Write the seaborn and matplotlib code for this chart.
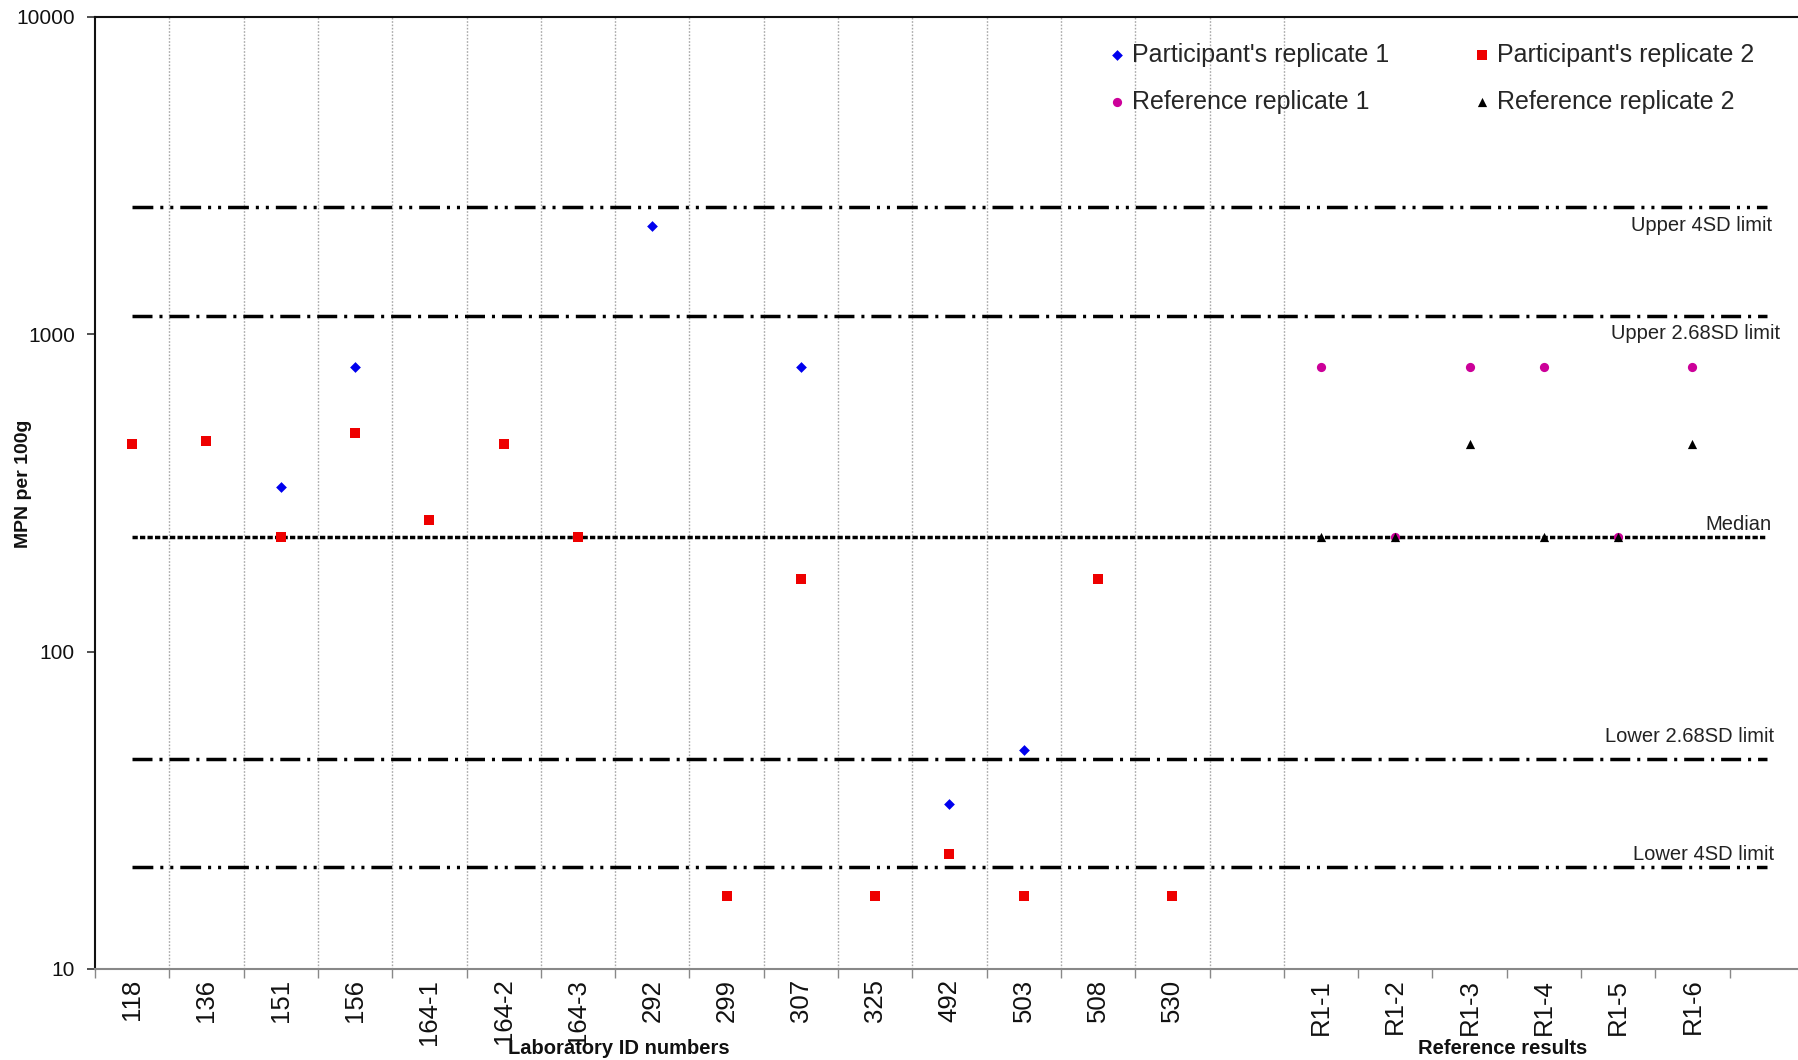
import numpy as np
import pandas as pd
import matplotlib
matplotlib.use("Agg")
import matplotlib.pyplot as plt
import seaborn as sns

# x categories: participants, one empty slot, then reference results
lab_ids = ["118", "136", "151", "156", "164-1", "164-2", "164-3", "292",
           "299", "307", "325", "492", "503", "508", "530"]
ref_ids = ["R1-1", "R1-2", "R1-3", "R1-4", "R1-5", "R1-6"]
tick_labels = lab_ids + [""] + ref_ids

# MPN per 100g (NaN = no point shown)
part_rep1 = [np.nan, np.nan, 330, 790, np.nan, np.nan, np.nan, 2200,
             np.nan, 790, np.nan, 33, 49, np.nan, np.nan]
part_rep2 = [450, 460, 230, 490, 260, 450, 230, np.nan,
             17, 170, 17, 23, 17, 170, 17]
ref_rep1 = [790, 230, 790, 790, 230, 790]
ref_rep2 = [230, 230, 450, 230, 230, 450]

# horizontal limit lines
limit_names = ["Upper 4SD limit", "Upper 2.68SD limit", "Median",
               "Lower 2.68SD limit", "Lower 4SD limit"]
limit_values = [2520, 1140, 230, 46, 21]

# styles for the limit lines (dash patterns in points) and label offsets
dash_4sd = (0, (15, 5, 2.2, 5, 2.2, 5))
dash_268 = (0, (14.4, 5, 2.2, 5))
dash_med = (0, (3.8, 1.6))
limit_styles = [dash_4sd, dash_268, dash_med, dash_268, dash_4sd]
label_offsets = [(4, -13.2), (9.5, -12.5), (3.2, 9.0), (5.4, 15.8), (5.4, 8.9)]

sns.set_theme(style="white")
plt.rcParams["font.family"] = ["Liberation Sans", "DejaVu Sans"]
plt.rcParams["lines.scale_dashes"] = False

# tidy frames for seaborn
n_lab = len(lab_ids)
ref_pos = np.arange(len(ref_ids)) + n_lab + 1
df_p = pd.DataFrame({"pos": np.arange(n_lab), "rep1": part_rep1, "rep2": part_rep2})
df_r = pd.DataFrame({"pos": ref_pos, "rep1": ref_rep1, "rep2": ref_rep2})

fig = plt.figure(figsize=(17.98, 10.60), dpi=100)
ax = fig.add_axes([95 / 1798, 91 / 1060, 1 - 95 / 1798, 952 / 1060])

# vertical dotted separators (participants part only)
for xb in np.arange(n_lab + 1) + 0.5:
    ax.axvline(xb, color="#a8a8a8", lw=1.0, ls=(0, (1.2, 1.2)), zorder=1)

# limit lines with their labels
x_end = len(tick_labels)
for name, val, ls, off in zip(limit_names, limit_values, limit_styles, label_offsets):
    ax.plot([0, x_end], [val, val], color="black", lw=2.5, ls=ls, zorder=2)
    ax.annotate(name, xy=(x_end, val), xytext=off, textcoords="offset points",
                ha="right", va="center", fontsize=14.5, color="#222222")

sns.scatterplot(data=df_p, x="pos", y="rep1", marker="D", s=30, color="#0000ee",
                linewidth=0, label="Participant's replicate 1", ax=ax, zorder=4)
sns.scatterplot(data=df_p, x="pos", y="rep2", marker="s", s=46, color="#ee0000",
                linewidth=0, label="Participant's replicate 2", ax=ax, zorder=4)
sns.scatterplot(data=df_r, x="pos", y="rep1", marker="o", s=44, color="#cc0099",
                linewidth=0, label="Reference replicate 1", ax=ax, zorder=4)
sns.scatterplot(data=df_r, x="pos", y="rep2", marker="^", s=44, color="black",
                linewidth=0, label="Reference replicate 2", ax=ax, zorder=5)

# y axis
ax.set_yscale("log")
ax.set_ylim(10, 10000)
ax.set_yticks([10, 100, 1000, 10000])
ax.set_yticklabels(["10", "100", "1000", "10000"])
ax.yaxis.set_minor_locator(matplotlib.ticker.NullLocator())
ax.tick_params(axis="y", which="major", left=True, length=5.5, width=1.2,
               color="#333333", pad=9, labelsize=15, labelcolor="#111111")
ax.set_ylabel("MPN per 100g", fontsize=14, fontweight="bold", color="#111111")
ax.yaxis.set_label_coords(-0.037, 0.51)

# x axis: tick marks between categories, labels at the centers
ax.set_xlim(-0.5, 22.42)
ax.set_xticks(np.arange(len(tick_labels) + 1) - 0.5)
ax.set_xticklabels([])
ax.set_xticks(np.arange(len(tick_labels)), minor=True)
ax.set_xticklabels(tick_labels, minor=True, rotation=90)
ax.tick_params(axis="x", which="major", bottom=True, length=6.5, width=1.0,
               color="#888888")
ax.tick_params(axis="x", which="minor", bottom=True, length=0, pad=7,
               labelsize=18.5, labelcolor="#111111")
ax.set_xlabel("")

ax.text((n_lab - 1) / 2 - 0.45, -0.083, "Laboratory ID numbers", transform=ax.get_xaxis_transform(),
        ha="center", va="center", fontsize=14.5, fontweight="bold", color="#111111")
ax.text(ref_pos.mean() - 0.05, -0.083, "Reference results", transform=ax.get_xaxis_transform(),
        ha="center", va="center", fontsize=14.5, fontweight="bold", color="#111111")

for side in ["left", "top"]:
    ax.spines[side].set_color("#111111")
    ax.spines[side].set_linewidth(1.5)
ax.spines["bottom"].set_color("#888888")
ax.spines["bottom"].set_linewidth(1.5)
ax.spines["right"].set_visible(False)

# legend: 2 x 2, participants on the first row
handles, labels = ax.get_legend_handles_labels()
order = [0, 2, 1, 3]
ax.legend([handles[i] for i in order], [labels[i] for i in order], ncol=2,
          loc="upper left", bbox_to_anchor=(0.596, 0.973), frameon=False,
          fontsize=18, handlelength=0.6, handletextpad=0.3, columnspacing=3.4,
          labelspacing=0.93, borderpad=0, borderaxespad=0)

fig.savefig("out.png", dpi=100)
